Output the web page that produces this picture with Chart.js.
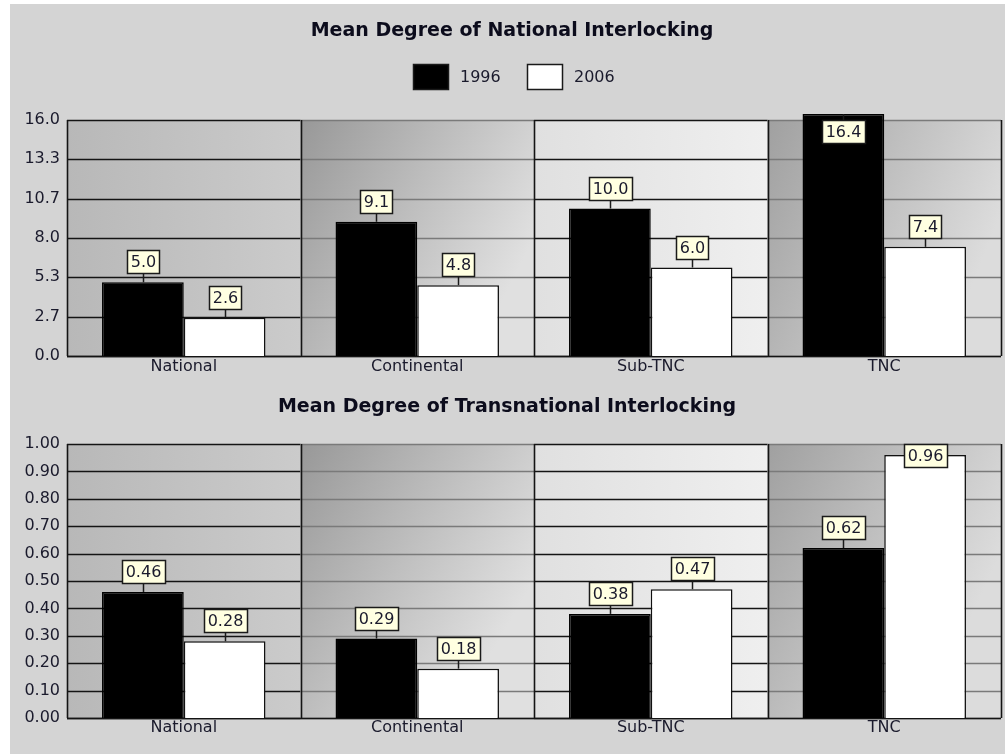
<!DOCTYPE html>
<html>
<head>
<meta charset="utf-8">
<script src="https://cdn.jsdelivr.net/npm/chart.js@4/dist/chart.umd.min.js"></script>
<style>
  html, body { margin: 0; padding: 0; background: #ffffff; }
  #panel { position: absolute; left: 10px; top: 4px; width: 995px; height: 750px; background: #d4d4d4; }
  #c1 { position: absolute; left: 0; top: 0; }
  #c2 { position: absolute; left: 0; top: 376px; }
</style>
</head>
<body>
<div id="panel">
  <canvas id="c1" width="995" height="376"></canvas>
  <canvas id="c2" width="995" height="374"></canvas>
</div>
<script>
// Firm categories on the x axis
const categories = ['National', 'Continental', 'Sub-TNC', 'TNC'];
const seriesNames = ['1996', '2006'];

// Mean degree of national interlocking
const national1996 = [5.0, 9.1, 10.0, 16.4];
const national2006 = [2.6, 4.8, 6.0, 7.4];
const nationalTicks = [0, 8 / 3, 16 / 3, 8, 32 / 3, 40 / 3, 16];

// Mean degree of transnational interlocking
const trans1996 = [0.46, 0.29, 0.38, 0.62];
const trans2006 = [0.28, 0.18, 0.47, 0.96];
const transTicks = [0, 0.1, 0.2, 0.3, 0.4, 0.5, 0.6, 0.7, 0.8, 0.9, 1.0];

const FONT = '"DejaVu Sans", sans-serif';
const TEXT = '#1a1a2c';

// Per-category band look: gradient stops, tilt of the gradient and grid colour
const bandStyles = [
  { from: '#b8b8b8', to: '#cbcbcb', tilt: 0,   grid: '#141414' },
  { from: '#989898', to: '#e0e0e0', tilt: 0.5, grid: '#7a7a7a' },
  { from: '#e0e0e0', to: '#efefef', tilt: 0,   grid: '#141414' },
  { from: '#a0a0a0', to: '#dcdcdc', tilt: 0.4, grid: '#7a7a7a' }
];

const bandPlugin = {
  id: 'bands',
  beforeDatasetsDraw(chart) {
    const { ctx, chartArea: a, scales } = chart;
    const yScale = scales.y;
    const n = categories.length;
    const w = (a.right - a.left) / n;
    const h = a.bottom - a.top;
    const ticks = chart.options.plugins.bands.ticks;
    ctx.save();
    for (let i = 0; i < n; i++) {
      const x0 = a.left + i * w, x1 = x0 + w;
      const st = bandStyles[i];
      const g = ctx.createLinearGradient(x0, a.top, x1, a.top + h * st.tilt);
      g.addColorStop(0, st.from);
      g.addColorStop(1, st.to);
      ctx.fillStyle = g;
      ctx.fillRect(x0, a.top, w, h);
      ctx.strokeStyle = st.grid;
      ctx.lineWidth = 1.6;
      ticks.forEach(v => {
        const y = Math.round(yScale.getPixelForValue(v)) + 0.5;
        ctx.beginPath();
        ctx.moveTo(x0, y);
        ctx.lineTo(x1, y);
        ctx.stroke();
      });
    }
    // band separators and frame
    ctx.strokeStyle = '#141414';
    ctx.lineWidth = 1.6;
    for (let i = 0; i <= n; i++) {
      const x = Math.round(a.left + i * w) + 0.5;
      ctx.beginPath();
      ctx.moveTo(x, a.top);
      ctx.lineTo(x, a.bottom);
      ctx.stroke();
    }
    const yb = Math.round(a.bottom) + 0.5;
    ctx.beginPath();
    ctx.moveTo(a.left, yb);
    ctx.lineTo(a.right, yb);
    ctx.stroke();
    ctx.restore();
  }
};

const valueLabelPlugin = {
  id: 'valueLabels',
  afterDatasetsDraw(chart) {
    const { ctx, chartArea: a } = chart;
    const digits = chart.options.plugins.valueLabels.digits;
    ctx.save();
    ctx.font = '16px ' + FONT;
    ctx.textAlign = 'center';
    ctx.textBaseline = 'middle';
    chart.data.datasets.forEach((ds, di) => {
      const meta = chart.getDatasetMeta(di);
      meta.data.forEach((bar, i) => {
        const txt = ds.data[i].toFixed(digits);
        const tw = ctx.measureText(txt).width;
        const bw = Math.round(tw + 7), bh = 23;
        let bottom = bar.y - 9;
        let top = bottom - bh;
        if (top < a.top) { top = a.top; bottom = top + bh; }
        const x = Math.round(bar.x);
        ctx.strokeStyle = '#1a1a1a';
        ctx.lineWidth = 1.5;
        ctx.beginPath();
        ctx.moveTo(x + 0.5, bottom);
        ctx.lineTo(x + 0.5, bar.y);
        ctx.stroke();
        const left = Math.round(x - bw / 2) + 0.5;
        const tp = Math.round(top) + 0.5;
        ctx.fillStyle = '#ffffe1';
        ctx.fillRect(left, tp, bw, bh);
        ctx.strokeRect(left, tp, bw, bh);
        ctx.fillStyle = TEXT;
        ctx.fillText(txt, x + 0.5, tp + bh / 2 + 1);
      });
    });
    ctx.restore();
  }
};

const headerPlugin = {
  id: 'header',
  afterDraw(chart) {
    const o = chart.options.plugins.header;
    const { ctx } = chart;
    ctx.save();
    ctx.fillStyle = '#0c0c1c';
    ctx.font = 'bold 19px "DejaVu Sans", sans-serif';
    ctx.textAlign = 'center';
    ctx.textBaseline = 'middle';
    ctx.fillText(o.title, o.titleX, o.titleY);
    if (o.legend) {
      ctx.font = '16px ' + FONT;
      ctx.textAlign = 'left';
      const items = [
        { x: 403, fill: '#000000', label: seriesNames[0] },
        { x: 517, fill: '#ffffff', label: seriesNames[1] }
      ];
      items.forEach(it => {
        ctx.fillStyle = it.fill;
        ctx.fillRect(it.x + 0.5, 60.5, 35, 25);
        ctx.strokeStyle = '#1a1a1a';
        ctx.lineWidth = 1.5;
        ctx.strokeRect(it.x + 0.5, 60.5, 35, 25);
        ctx.fillStyle = TEXT;
        ctx.fillText(it.label, it.x + 47, 74);
      });
    }
    ctx.restore();
  }
};

function makeChart(id, d1, d2, ticks, digits, max, opts) {
  return new Chart(document.getElementById(id), {
    type: 'bar',
    data: {
      labels: categories,
      datasets: [
        { label: seriesNames[0], data: d1, backgroundColor: '#000000', borderColor: '#000000', borderWidth: 1.5, clip: false },
        { label: seriesNames[1], data: d2, backgroundColor: '#ffffff', borderColor: '#111111', borderWidth: 1.5, clip: false }
      ]
    },
    options: {
      responsive: false,
      animation: false,
      events: [],
      datasets: { bar: { barPercentage: 1.0, categoryPercentage: 0.70 } },
      layout: { padding: { top: opts.top, right: 4, bottom: 0, left: 0 } },
      scales: {
        x: {
          grid: { display: false, drawTicks: false },
          border: { display: false },
          ticks: { color: TEXT, font: { family: FONT, size: 16 }, padding: opts.xPad, maxRotation: 0 },
          afterFit(scale) { scale.height = opts.xHeight; }
        },
        y: {
          min: 0,
          max: max,
          grid: { display: false, drawTicks: false },
          border: { display: false },
          afterBuildTicks(scale) { scale.ticks = ticks.map(v => ({ value: v })); },
          ticks: {
            color: TEXT,
            font: { family: FONT, size: 16 },
            padding: 7,
            callback: v => Number(v).toFixed(digits)
          },
          afterFit(scale) { scale.width = 57; }
        }
      },
      plugins: {
        legend: { display: false },
        tooltip: { enabled: false },
        bands: { ticks: ticks },
        valueLabels: { digits: digits },
        header: opts.header
      }
    },
    plugins: [bandPlugin, valueLabelPlugin, headerPlugin]
  });
}

makeChart('c1', national1996, national2006, nationalTicks, 1, 16, {
  top: 116, xHeight: 24, xPad: 1,
  header: { title: 'Mean Degree of National Interlocking', titleX: 502, titleY: 27, legend: true }
});

makeChart('c2', trans1996, trans2006, transTicks, 2, 1.0, {
  top: 64, xHeight: 36, xPad: 0,
  header: { title: 'Mean Degree of Transnational Interlocking', titleX: 497, titleY: 27, legend: false }
});
</script>
</body>
</html>
